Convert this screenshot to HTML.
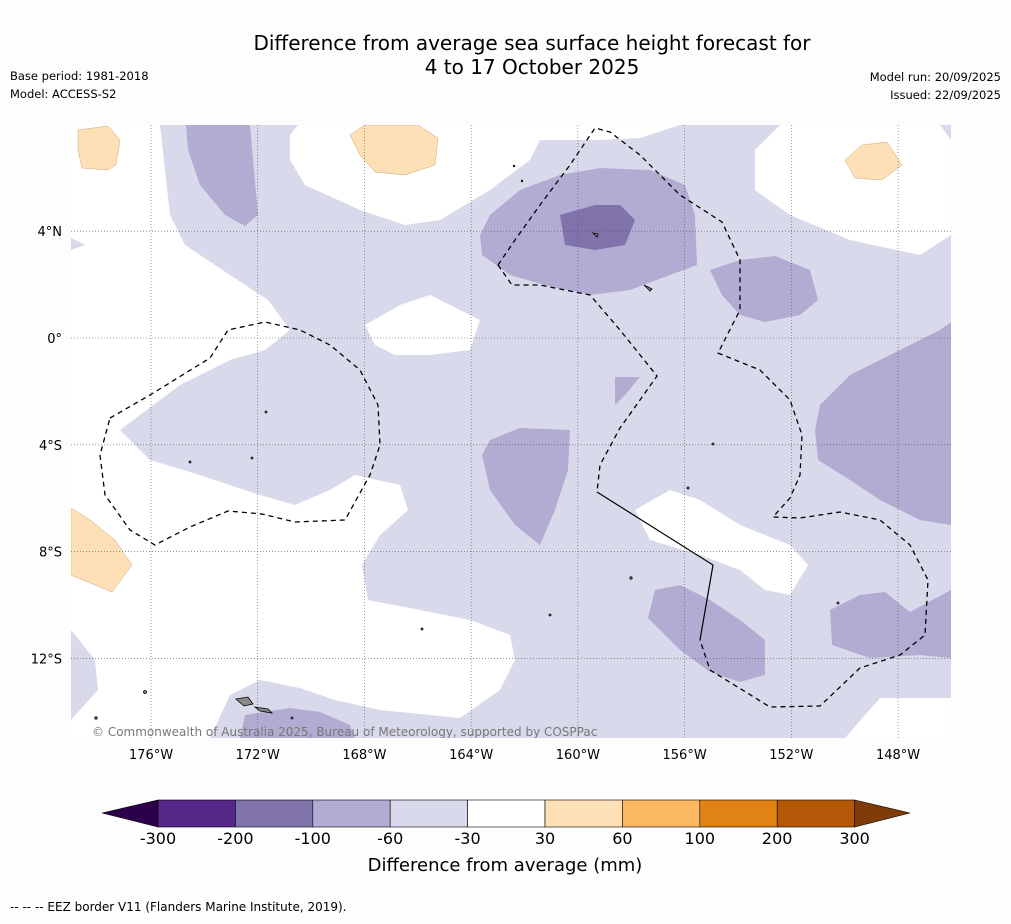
<!DOCTYPE html>
<html><head><meta charset="utf-8"><style>
body{margin:0;background:#fdfdfd;font-family:"Liberation Sans",sans-serif;}
svg text{font-family:"DejaVu Sans","Liberation Sans",sans-serif;}
</style></head><body>
<svg id="c" width="1011" height="919" viewBox="0 0 1011 919">
<rect width="1011" height="919" fill="#fdfdfd"/>
<text x="532" y="50" text-anchor="middle" font-size="20" fill="#000">Difference from average sea surface height forecast for</text>
<text x="532" y="74" text-anchor="middle" font-size="20" fill="#000">4 to 17 October 2025</text>
<text x="10" y="80" font-size="11.5">Base period: 1981-2018</text>
<text x="10" y="98" font-size="11.5">Model: ACCESS-S2</text>
<text x="1001" y="81" font-size="11.5" text-anchor="end">Model run: 20/09/2025</text>
<text x="1001" y="99" font-size="11.5" text-anchor="end">Issued: 22/09/2025</text>
<defs><clipPath id="mc"><rect x="71" y="125" width="880" height="613"/></clipPath></defs>
<g clip-path="url(#mc)">
<rect x="71" y="125" width="880" height="613" fill="#d8daeb"/>
<g fill="#fff">
<polygon points="71,125 160,125 170,215 185,245 230,275 268,300 290,330 265,350 230,360 180,385 120,430 150,460 200,475 260,495 295,505 330,490 355,475 400,485 408,510 380,535 362,565 368,600 420,610 470,620 510,635 515,660 500,690 460,718 380,710 335,700 300,688 260,680 230,695 210,738 71,738 71,720 98,690 95,660 71,630 71,250 85,245 71,238"/>
<polygon points="298,125 290,135 290,160 305,185 360,210 405,225 440,220 490,190 530,160 540,140 600,140 640,138 680,125"/>
<polygon points="780,125 755,150 755,190 790,215 850,240 920,255 951,235 951,140 940,125"/>
<polygon points="365,325 400,305 430,295 480,320 470,350 430,355 395,355 375,345"/>
<polygon points="635,510 670,490 700,500 740,525 790,545 808,565 790,595 765,590 740,570 700,555 650,540"/>
<polygon points="845,738 951,738 951,698 880,698"/>
</g>
<g fill="#b2abd2">
<polygon points="186,125 250,125 258,215 245,226 225,215 200,185 188,150"/>
<polygon points="490,215 520,190 560,175 600,168 650,170 685,185 695,215 697,265 670,275 630,290 590,295 545,285 510,275 482,255 480,235"/>
<polygon points="710,270 740,260 775,256 810,270 818,300 800,315 765,322 740,315 722,295"/>
<polygon points="820,405 850,375 900,350 940,330 951,322 951,525 920,520 880,500 850,480 818,460 815,430"/>
<polygon points="482,455 490,440 520,428 570,430 568,470 555,510 540,545 515,525 490,490"/>
<polygon points="615,377 640,377 625,395 615,405"/>
<polygon points="655,590 680,585 710,600 740,620 765,640 765,675 740,682 710,672 680,650 648,618"/>
<polygon points="830,610 860,595 885,592 910,612 951,590 951,658 920,655 870,658 832,645"/>
<polygon points="240,738 245,715 290,708 320,712 350,725 355,738"/>
</g>
<polygon points="560,215 595,205 620,205 635,220 625,245 595,250 565,245" fill="#8073ac"/>
<g fill="#fee0b6" stroke="#c9a67a" stroke-width="0.5">
<polygon points="78,130 108,126 120,140 116,165 108,170 82,168 78,150"/>
<polygon points="350,135 365,125 418,125 438,138 435,165 405,175 375,172 360,155"/>
<polygon points="845,160 862,145 887,142 902,165 882,180 855,178"/>
<polygon points="71,508 90,520 115,540 132,565 112,592 71,575"/>
</g>
<g stroke="#555" stroke-width="0.6" stroke-dasharray="1,2" id="grid"></g>
<g fill="none" stroke="#000" stroke-width="1.3" stroke-dasharray="5,4">
<polyline points="110,418 150,395 210,358 228,330 265,322 300,330 330,345 360,370 378,405 380,445 370,475 345,520 295,522 262,514 228,511 190,527 155,545 130,530 105,495 100,455 110,418"/>
<polyline points="498,265 515,240 540,205 570,165 595,128 610,132 640,155 680,195 722,222 740,260 740,310 718,353 760,370 790,400 802,435 800,475 790,498 773,517 800,518 840,512 880,520 910,545 928,580 925,635 900,655 860,668 820,706 770,707 710,670 700,640"/>
<polyline points="498,265 512,285 540,285 590,295 620,330 657,376 640,400 620,428 600,465 597,492"/>
</g>
<polyline points="597,492 713,565 700,640" fill="none" stroke="#000" stroke-width="1.2"/>
<g fill="#888" stroke="#000" stroke-width="0.8">
<polygon points="236,699 248,697 253,704 244,706"/>
<polygon points="255,707 268,709 272,713 260,711"/>
<polygon points="593,233 598,234 597,237"/>
<polygon points="644,285 652,289 650,291"/>
<circle cx="145" cy="692" r="1.5"/><circle cx="266" cy="412" r="1"/><circle cx="252" cy="458" r="1"/><circle cx="190" cy="462" r="1"/><circle cx="713" cy="444" r="1"/><circle cx="688" cy="488" r="1"/><circle cx="631" cy="578" r="1.2"/><circle cx="550" cy="615" r="1"/><circle cx="422" cy="629" r="1"/><circle cx="292" cy="718" r="1"/><circle cx="96" cy="718" r="1.2"/><circle cx="838" cy="603" r="1"/><circle cx="514" cy="166" r="0.8"/><circle cx="522" cy="181" r="0.8"/>
</g>
<text x="92" y="736" font-size="12" fill="#777">© Commonwealth of Australia 2025, Bureau of Meteorology, supported by COSPPac</text>
</g>
<g id="axes"></g>
<g id="cbar"></g>
<text x="505" y="871" text-anchor="middle" font-size="18">Difference from average (mm)</text>
<text x="10" y="911" font-size="12">--  --  -- EEZ border V11 (Flanders Marine Institute, 2019).</text>
</svg>
<script>
const lonTicks=[176,172,168,164,160,156,152,148];
const latTicks=[4,0,-4,-8,-12];
const levels=[-300,-200,-100,-60,-30,30,60,100,200,300];
const levelColors=["#542788","#8073ac","#b2abd2","#d8daeb","#ffffff","#fee0b6","#fdb863","#e08214","#b35806"];
const NS="http://www.w3.org/2000/svg";
function xLon(w){return 151+(176-w)*26.68;}
function yLat(l){return 338-l*26.7;}
function mk(t,a,p){const e=document.createElementNS(NS,t);for(const k in a)e.setAttribute(k,a[k]);p.appendChild(e);return e;}
const grid=document.getElementById('grid'),axes=document.getElementById('axes'),cb=document.getElementById('cbar');
lonTicks.forEach(w=>{const x=xLon(w);
 const l=mk('line',{x1:x,x2:x,y1:125,y2:738},grid);
 
 
 const t=mk('text',{x:x,y:759,'text-anchor':'middle','font-size':13},axes);t.textContent=w+'°W';
 
 });
latTicks.forEach(v=>{const y=yLat(v);
 const l=mk('line',{x1:71,x2:951,y1:y,y2:y},grid);
 
 
 const t=mk('text',{x:62,y:y+5,'text-anchor':'end','font-size':13},axes);
 t.textContent=v===0?'0°':Math.abs(v)+'°'+(v>0?'N':'S');
 
 });
const cx0=158,cw=77.4,cy=800,ch=27;
function cbx(i){return cx0+i*cw;}
const lt=mk('polygon',{points:`102,813 ${cbx(0)},${cy} ${cbx(0)},${cy+ch}`,fill:'#2d004b',stroke:'#000','stroke-width':0.6},cb);


const rt=mk('polygon',{points:`910,813 ${cbx(9)},${cy} ${cbx(9)},${cy+ch}`,fill:'#7f3b08',stroke:'#000','stroke-width':0.6},cb);


levelColors.forEach((c,i)=>{const r=mk('rect',{x:cbx(i),y:cy,width:cw,height:ch,fill:c,stroke:'#000','stroke-width':0.6},cb);
 
 });
levels.forEach((v,i)=>{const t=mk('text',{x:cbx(i),y:844,'text-anchor':'middle','font-size':16},cb);t.textContent=v;
 
 });
</script>
</body></html>
